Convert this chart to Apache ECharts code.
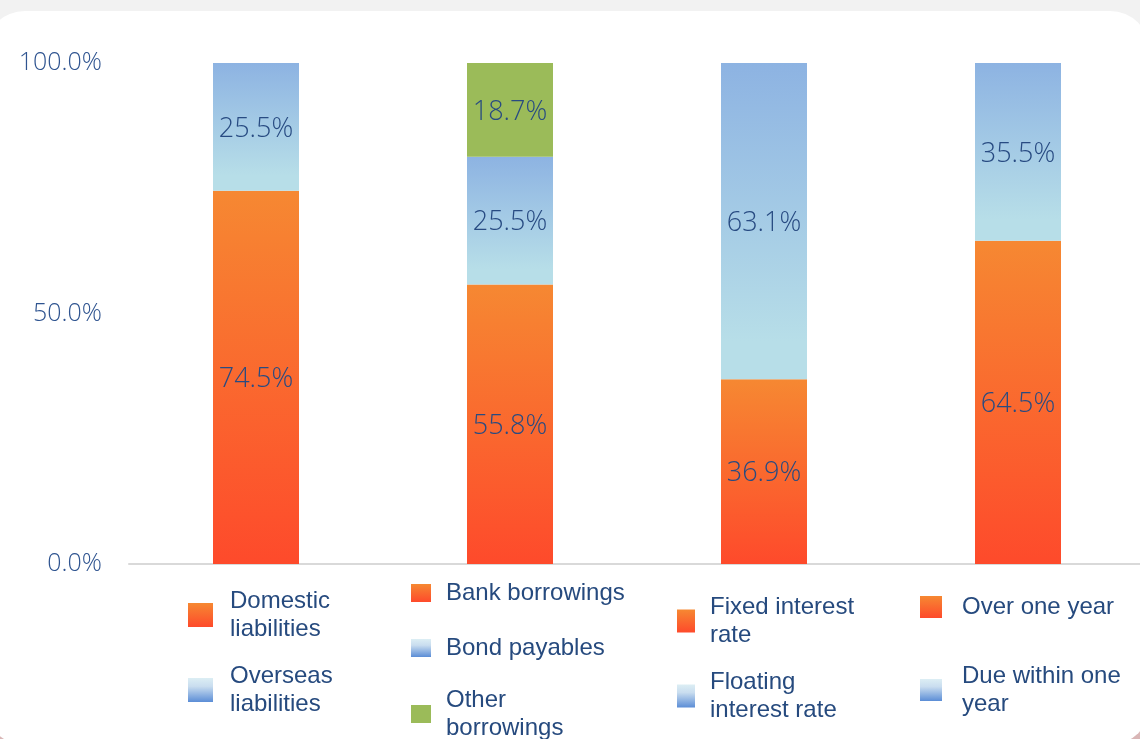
<!DOCTYPE html>
<html>
<head>
<meta charset="utf-8">
<script src="https://cdn.jsdelivr.net/npm/echarts@6/dist/echarts.min.js"></script>
<style>
  html, body { margin: 0; padding: 0; width: 1140px; height: 739px; overflow: hidden;
    background: linear-gradient(to bottom, #f2f2f2 0%, #f2f2f2 55%, #d9b6b6 100%); }
  #panel { position: absolute; left: -15px; top: 11px; width: 1165px; height: 734px;
    background: #ffffff; border-radius: 40px; }
  #chart { position: absolute; left: 0; top: 0; width: 1160px; height: 739px; }
</style>
</head>
<body>
<div id="panel"></div>
<div id="chart"></div>
<script>
// ---- data ----
const categories = ['By region', 'By borrowing type', 'By interest rate', 'By maturity'];
const seriesNames = [
  'Domestic liabilities', 'Overseas liabilities',
  'Bank borrowings', 'Bond payables', 'Other borrowings',
  'Fixed interest rate', 'Floating interest rate',
  'Over one year', 'Due within one year'
];
const seriesCategory = [0, 0, 1, 1, 1, 2, 2, 3, 3];
const seriesValues = [74.5, 25.5, 55.8, 25.5, 18.7, 36.9, 63.1, 64.5, 35.5];
const yTicks = [0, 50, 100];

// ---- styling ----
const G = echarts.graphic.LinearGradient;
const barFill = {
  orange: () => new G(0, 0, 0, 1, [{offset: 0, color: '#F68832'}, {offset: 1, color: '#FE4A2B'}]),
  blue: () => new G(0, 0, 0, 1, [{offset: 0, color: '#8DB3E2'}, {offset: 0.88, color: '#B7DEE8'}, {offset: 1, color: '#B7DEE8'}]),
  green: () => '#9BBB59'
};
const iconFill = {
  orange: () => new G(0, 0, 0, 1, [{offset: 0, color: '#F68832'}, {offset: 1, color: '#FE4A2B'}]),
  blue: () => new G(0, 0, 0, 1, [{offset: 0, color: '#DCEEF4'}, {offset: 0.35, color: '#C9DDEF'}, {offset: 1, color: '#5B8DD6'}]),
  green: () => '#9BBB59'
};
const kindOf = {
  'Domestic liabilities': 'orange', 'Overseas liabilities': 'blue',
  'Bank borrowings': 'orange', 'Bond payables': 'blue', 'Other borrowings': 'green',
  'Fixed interest rate': 'orange', 'Floating interest rate': 'blue',
  'Over one year': 'orange', 'Due within one year': 'blue'
};
// legend layout: label text (with line breaks), icon left, item top, icon size
const legendLayout = {
  'Domestic liabilities':   {text: 'Domestic\nliabilities', left: 188, top: 587, w: 25, h: 24, gap: 12},
  'Overseas liabilities':   {text: 'Overseas\nliabilities', left: 188, top: 662, w: 25, h: 24, gap: 12},
  'Bank borrowings':        {text: 'Bank borrowings', left: 411, top: 579, w: 20, h: 18, gap: 10},
  'Bond payables':          {text: 'Bond payables', left: 411, top: 634, w: 20, h: 18, gap: 10},
  'Other borrowings':       {text: 'Other\nborrowings', left: 411, top: 686, w: 20, h: 18, gap: 10},
  'Fixed interest rate':    {text: 'Fixed interest\nrate', left: 677, top: 593, w: 18, h: 23, gap: 10},
  'Floating interest rate': {text: 'Floating\ninterest rate', left: 677, top: 668, w: 18, h: 23, gap: 10},
  'Over one year':          {text: 'Over one year', left: 920, top: 593, w: 22, h: 22, gap: 15},
  'Due within one year':    {text: 'Due within one\nyear', left: 920, top: 662, w: 22, h: 22, gap: 15}
};

const labelFont = {fontFamily: '"Open Sans", "Noto Sans", sans-serif', fontWeight: 300};

const series = seriesNames.map((name, i) => {
  const data = categories.map((c, ci) => ci === seriesCategory[i] ? seriesValues[i] : '-');
  return {
    name, type: 'bar', stack: 'total', barWidth: 86, data,
    itemStyle: {color: barFill[kindOf[name]]()},
    emphasis: {disabled: true},
    label: {
      show: true, position: 'inside', color: '#284B82', fontSize: 27, ...labelFont,
      offset: [0, 2],
      formatter: p => p.value.toFixed(1) + '%'
    }
  };
});

const legends = seriesNames.map(name => {
  const L = legendLayout[name];
  return {
    left: L.left, top: L.top, padding: 0, orient: 'vertical',
    itemWidth: L.w, itemHeight: L.h, icon: 'rect', selectedMode: false,
    data: [{name, itemStyle: {color: iconFill[kindOf[name]]()}}],
    formatter: () => L.text,
    textStyle: {
      fontFamily: '"Liberation Sans", Arial, sans-serif', fontSize: 24, lineHeight: 28,
      color: '#264A7E', padding: [0, 0, 0, L.gap]
    }
  };
});

const chart = echarts.init(document.getElementById('chart'), null, {renderer: 'canvas'});
chart.setOption({
  backgroundColor: 'transparent',
  animation: false,
  grid: {left: 129, top: 63, width: 1016, height: 501, containLabel: false},
  xAxis: {
    type: 'category', data: categories,
    axisLine: {show: true, lineStyle: {color: '#D9D9D9', width: 2}},
    axisTick: {show: false}, axisLabel: {show: false}
  },
  yAxis: {
    type: 'value', min: 0, max: 100, interval: 50,
    splitLine: {show: false}, axisLine: {show: false}, axisTick: {show: false},
    axisLabel: {
      margin: 27, color: '#2F5490', fontSize: 25, ...labelFont, padding: [4, 0, 0, 0],
      formatter: v => yTicks.includes(v) ? v.toFixed(1) + '%' : ''
    }
  },
  legend: legends,
  series
});
</script>
</body>
</html>
